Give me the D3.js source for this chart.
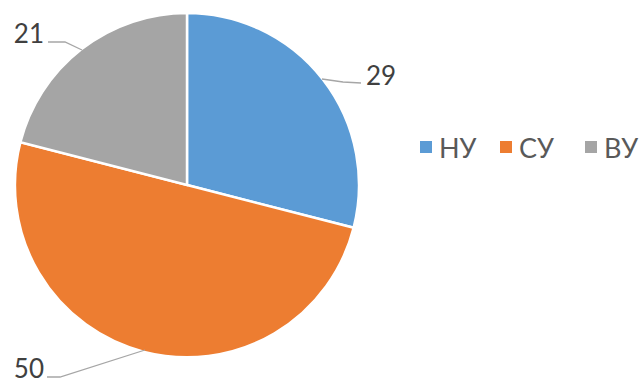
<!DOCTYPE html>
<html><head><meta charset="utf-8">
<script src="https://cdn.jsdelivr.net/npm/d3@7"></script>
<style>body{margin:0;background:#fff}svg{display:block}</style>
</head><body>
<script>
const categories = ["НУ", "СУ", "ВУ"];
const values = [29, 50, 21];
const colors = ["#5B9BD5", "#ED7D31", "#A5A5A5"];

const W = 643, H = 383;
const cx = 187, cy = 185, R = 172;
const svg = d3.select("body").append("svg").attr("width", W).attr("height", H);
const g = svg.append("g").attr("transform", `translate(${cx},${cy})`);
const pie = d3.pie().sort(null).value(d => d)(values);
const arc = d3.arc().innerRadius(0).outerRadius(R);
g.selectAll("path").data(pie).join("path")
  .attr("d", arc).attr("fill", (d, i) => colors[i])
  .attr("stroke", "#fff").attr("stroke-width", 2.5);

const labelPos = [
  {x: 366, y: 85, anchor: "start", line: [[361, 83], [343, 82], [322, 79]]},
  {x: 44, y: 378, anchor: "end", line: [[47, 377], [60, 377], [145, 350]]},
  {x: 44, y: 43, anchor: "end", line: [[48, 42], [65, 42], [82, 50]]}
];
pie.forEach((d, i) => {
  const lp = labelPos[i];
  svg.append("path").attr("d", d3.line()(lp.line)).attr("fill", "none")
    .attr("stroke", "#A6A6A6").attr("stroke-width", 1.3);
  svg.append("text").attr("x", lp.x).attr("y", lp.y).attr("text-anchor", lp.anchor)
    .attr("font-family", "Lato, 'Open Sans', sans-serif").attr("font-size", 26)
    .attr("fill", "#404040").text(values[i]);
});

const legX = [420, 500, 585];
categories.forEach((c, i) => {
  svg.append("rect").attr("x", legX[i]).attr("y", 141).attr("width", 12).attr("height", 12).attr("fill", colors[i]);
  svg.append("text").attr("x", legX[i] + 19).attr("y", 157.5)
    .attr("font-family", "Lato, 'Open Sans', sans-serif").attr("font-size", 27)
    .attr("fill", "#595959").text(c);
});
</script>
</body></html>
